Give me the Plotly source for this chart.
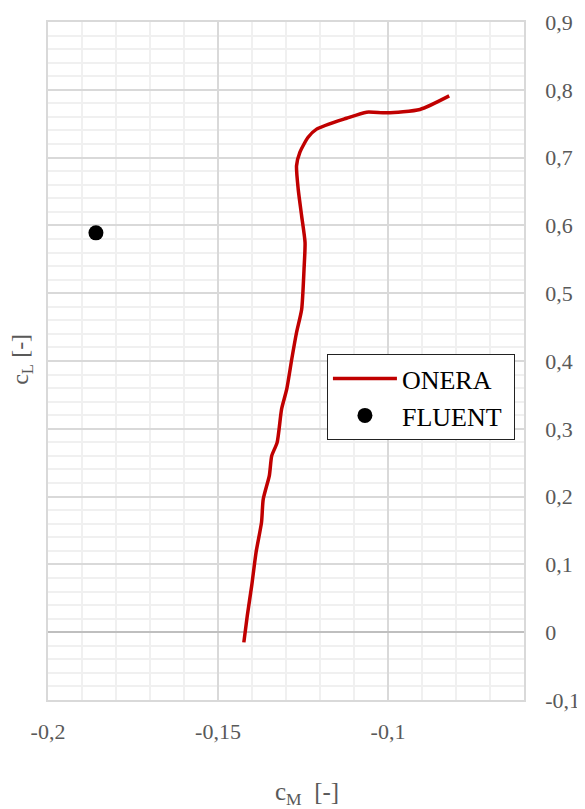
import plotly.graph_objects as go

# ONERA curve (cM, cL)
onera_cm = [-0.1424, -0.1414, -0.1401, -0.1388, -0.1372, -0.1367, -0.1349, -0.1342,
            -0.1326, -0.1313, -0.1298, -0.1283, -0.1269, -0.1254, -0.1247, -0.1244,
            -0.1254, -0.1264, -0.1269, -0.1259, -0.1235, -0.1210, -0.1122, -0.1063,
            -0.1004, -0.0906, -0.0820]
onera_cl = [-0.015, 0.024, 0.068, 0.118, 0.162, 0.196, 0.231, 0.260,
            0.280, 0.329, 0.358, 0.403, 0.442, 0.476, 0.535, 0.575,
            0.614, 0.653, 0.688, 0.708, 0.730, 0.742, 0.758, 0.767,
            0.766, 0.771, 0.791]

# FLUENT point
fluent_cm = [-0.1859]
fluent_cl = [0.589]

x_tickvals = [-0.2, -0.15, -0.1]
x_ticktext = ["-0,2", "-0,15", "-0,1"]
y_tickvals = [-0.1, 0, 0.1, 0.2, 0.3, 0.4, 0.5, 0.6, 0.7, 0.8, 0.9]
y_ticktext = ["-0,1", "0", "0,1", "0,2", "0,3", "0,4", "0,5", "0,6", "0,7", "0,8", "0,9"]

FONT = "Liberation Serif"
GRAY = "#595959"

fig = go.Figure()
fig.add_trace(go.Scatter(x=onera_cm, y=onera_cl, mode="lines", name="ONERA\u00a0",
                         legendgroup="a",
                         line=dict(color="#c00000", width=3.5, shape="spline", smoothing=0.6)))
fig.add_trace(go.Scatter(x=fluent_cm, y=fluent_cl, mode="markers", name="FLUENT\u00a0",
                         legendgroup="b",
                         marker=dict(color="black", size=15)))

fig.update_layout(
    width=577, height=801,
    margin=dict(l=40, r=61, t=14, b=109, autoexpand=False),
    paper_bgcolor="white", plot_bgcolor="white",
    font=dict(family=FONT, color=GRAY, size=22),
    showlegend=True,
    legend=dict(x=0.586, y=0.510, xanchor="left", yanchor="top",
                bgcolor="white", bordercolor="#222222", borderwidth=1,
                font=dict(family=FONT, size=26, color="black"),
                tracegroupgap=0, itemwidth=64),
    xaxis=dict(range=[-0.2, -0.06], tickvals=x_tickvals, ticktext=x_ticktext,
               automargin=False,
               showgrid=True, gridcolor="#d9d9d9", gridwidth=1.5,
               zeroline=False, showline=True, linecolor="#d9d9d9", linewidth=1.5,
               mirror=True, ticks="", ticklabelstandoff=11,
               tickfont=dict(family=FONT, size=22, color=GRAY),
               minor=dict(dtick=0.01, tick0=-0.2, showgrid=True, gridcolor="#f0f0f0", gridwidth=1.5)),
    yaxis=dict(range=[-0.1, 0.9], side="right", tickvals=y_tickvals, ticktext=y_ticktext,
               automargin=False,
               showgrid=True, gridcolor="#d9d9d9", gridwidth=1.5,
               zeroline=True, zerolinecolor="#bfbfbf", zerolinewidth=2,
               showline=True, linecolor="#d9d9d9", linewidth=1.5, mirror=True,
               ticks="", ticklabelstandoff=15,
               tickfont=dict(family=FONT, size=22, color=GRAY),
               minor=dict(dtick=0.02, tick0=0, showgrid=True, gridcolor="#f0f0f0", gridwidth=1.5)),
    annotations=[
        dict(text="c<sub>L</sub> [-]", xref="paper", yref="paper", x=-0.055, y=0.503,
             xanchor="center", yanchor="middle", textangle=-90, showarrow=False,
             font=dict(family=FONT, size=24, color=GRAY)),
        dict(text="c<sub>M</sub>  [-]", xref="paper", yref="paper", x=0.545, y=-0.138,
             xanchor="center", yanchor="middle", showarrow=False,
             font=dict(family=FONT, size=25, color=GRAY)),
    ],
)

fig.write_html("out.html")
